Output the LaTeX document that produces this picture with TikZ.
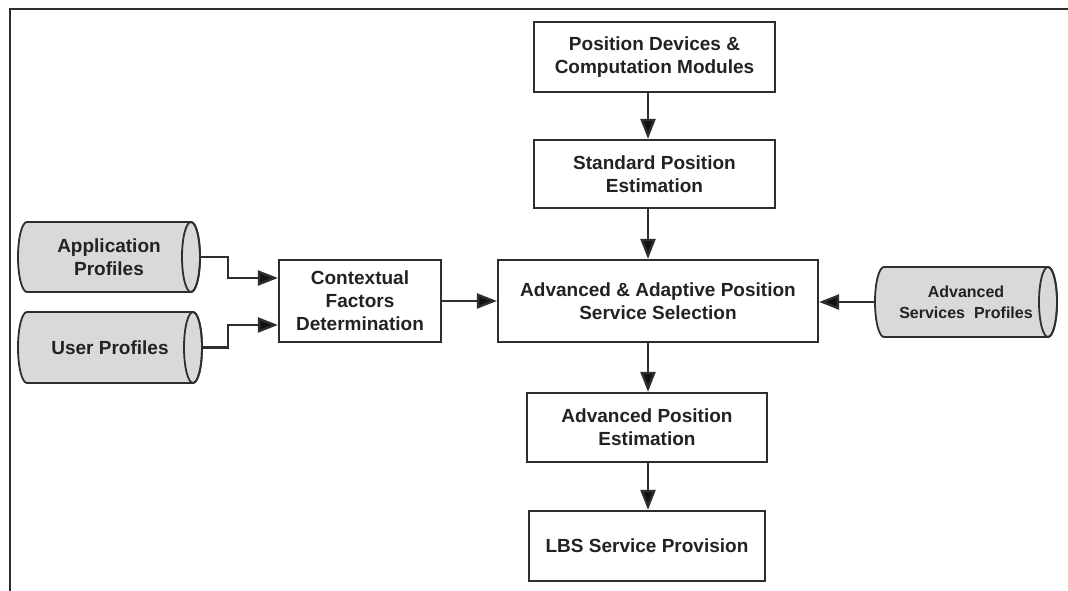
\documentclass[tikz,border=0pt]{standalone}
\usepackage{fontspec}
\setmainfont{Liberation Sans}
\usetikzlibrary{arrows.meta,calc}

\definecolor{ink}{HTML}{222222}
\definecolor{linegray}{HTML}{2E2E2E}
\definecolor{tipblack}{HTML}{111111}
\definecolor{drumfill}{HTML}{D9D9D9}

% horizontal storage drum: centre x, centre y, half length, half height
\newcommand\drumat[4]{%
  \filldraw[drumbody] ({#1-#3+9},{#2+#4}) -- ({#1+#3-9},{#2+#4})
    arc[start angle=90,end angle=-90,x radius=9pt,y radius=#4pt]
    -- ({#1-#3+9},{#2-#4})
    arc[start angle=270,end angle=90,x radius=9pt,y radius=#4pt] -- cycle;
  \draw[drumbody,fill=none] ({#1+#3-9},#2) ellipse[x radius=9pt,y radius=#4pt];}

\begin{document}
\begin{tikzpicture}[x=1pt,y=1pt,
  txt/.style={text=ink,align=center,inner sep=0pt,
    font=\bfseries\fontsize{19}{23}\selectfont},
  box/.style={txt,draw=linegray,line width=2.2pt,fill=white},
  drumbody/.style={draw=linegray,line width=1.8pt,fill=drumfill},
  drumtext/.style={txt,minimum width=182pt,minimum height=70pt},
  arr/.style={draw=linegray,line width=2.4pt,
    -{Triangle[length=20pt,width=15pt,fill=tipblack]}},
  frame/.style={draw=linegray,line width=2.8pt}]

\useasboundingbox (0,0) rectangle (1068,590);
\fill[white] (0,0) rectangle (1068,590);
\draw[frame] (10,-2) -- (10,581) -- (1070,581);

% process boxes
\node[box,minimum width=241pt,minimum height=70pt] (pdc) at (654.5,533)
  {Position Devices \&\\Computation Modules};
\node[box,minimum width=241pt,minimum height=68pt] (std) at (654.5,416)
  {Standard Position\\Estimation};
\node[box,minimum width=320pt,minimum height=82pt] (adv) at (658,289)
  {Advanced \& Adaptive Position\\Service Selection};
\node[box,minimum width=162pt,minimum height=82pt] (ctx) at (360,289)
  {Contextual\\Factors\\Determination};
\node[box,minimum width=240pt,minimum height=69pt] (ape) at (647,162.5)
  {Advanced Position\\Estimation};
\node[box,minimum width=236pt,minimum height=70pt] (lbs) at (647,44)
  {LBS Service Provision};

% profile stores
\drumat{109}{333}{91}{35}
\node[drumtext] (app) at (109,333) {Application\\Profiles};
\drumat{110}{242.5}{92}{35.5}
\node[drumtext,minimum width=184pt] (usr) at (110,242.5) {User Profiles};
\drumat{966}{288}{91}{35}
\node[drumtext,font=\bfseries\fontsize{16}{21}\selectfont] (asp) at (966,288)
  {Advanced\\Services~~Profiles};

% main flow
\coordinate (axis) at (648,0);
\draw[arr] (pdc.south -| axis) -- (std.north -| axis);
\draw[arr] (std.south -| axis) -- (adv.north -| axis);
\draw[arr] (adv.south -| axis) -- (ape.north -| axis);
\draw[arr] (ape.south -| axis) -- (lbs.north -| axis);

% context inputs
\draw[arr] (app.east) -- ++(28,0) |- ([yshift=23pt]ctx.west);
\draw[arr] (usr.east) -- ++(26,0) |- ([yshift=-24pt]ctx.west);
\draw[arr] (ctx.east) -- (adv.west);
\draw[arr] (asp.west) -- (adv.east |- asp.west);

\end{tikzpicture}
\end{document}
